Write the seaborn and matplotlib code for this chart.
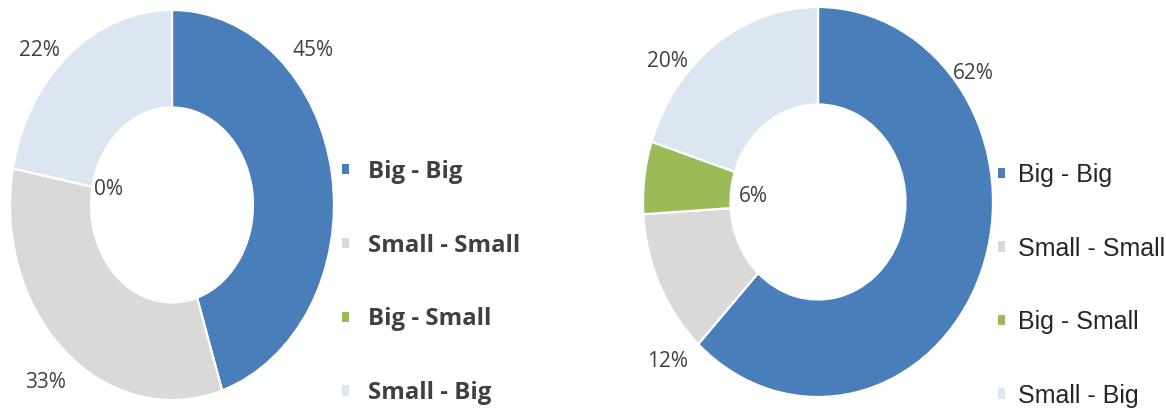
import matplotlib
matplotlib.use("Agg")
import matplotlib.pyplot as plt
from matplotlib.patches import Patch
import seaborn as sns

# Share of pairings (percent)
categories = ["Big - Big", "Small - Small", "Big - Small", "Small - Big"]
left_values = [45, 33, 0, 22]
right_values = [62, 12, 6, 20]
colors = ["#4A7EBB", "#D9D9D9", "#9BBB59", "#DCE6F2"]

sns.set_theme(style="white")
plt.rcParams["font.family"] = ["Open Sans", "DejaVu Sans"]

W, H = 1166, 409
fig = plt.figure(figsize=(W / 100, H / 100), dpi=100)
palette = sns.color_palette(colors)


def px_rect(x0, y0, x1, y1):
    """Pixel box (top-left origin) -> figure fraction rect."""
    return [x0 / W, (H - y1) / H, (x1 - x0) / W, (y1 - y0) / H]


def donut(rect, values, label_pos):
    ax = fig.add_axes(rect)
    ax.pie(
        values,
        colors=palette,
        startangle=90,
        counterclock=False,
        radius=1.0,
        wedgeprops=dict(width=0.5, edgecolor="white", linewidth=1.6),
    )
    ax.set_aspect("auto")
    ax.set_xlim(-1, 1)
    ax.set_ylim(-1, 1)
    ax.axis("off")
    for v, (x, y) in zip(values, label_pos):
        ax.text(x, y, f"{v}%", ha="center", va="center", fontsize=15,
                color="#404040", family=["Open Sans", "DejaVu Sans"])
    return ax


def swatches():
    return [Patch(facecolor=c, edgecolor="none", linewidth=0) for c in palette]


# Left donut
ax_l = donut(px_rect(10, 10, 334, 400), left_values,
             [(0.87, 0.79), (-0.78, -0.91), (-0.39, 0.08), (-0.82, 0.79)])
fig.legend(swatches(), categories, loc="upper left",
           bbox_to_anchor=(342 / W, (H - 160) / H), bbox_transform=fig.transFigure,
           frameon=False, borderpad=0, borderaxespad=0,
           handlelength=0.28, handleheight=0.28, handletextpad=0.8,
           labelspacing=2.07,
           prop=dict(family=["Open Sans", "DejaVu Sans"], weight="bold", size=17.3),
           labelcolor="#404040")

# Right donut
ax_r = donut(px_rect(643, 7, 993, 397), right_values,
             [(0.89, 0.66), (-0.86, -0.82), (-0.37, 0.03), (-0.86, 0.72)])
fig.legend(swatches(), categories, loc="upper left",
           bbox_to_anchor=(998 / W, (H - 163) / H), bbox_transform=fig.transFigure,
           frameon=False, borderpad=0, borderaxespad=0,
           handlelength=0.26, handleheight=0.26, handletextpad=0.55,
           labelspacing=1.98,
           prop=dict(family=["Liberation Sans", "DejaVu Sans"], size=18),
           labelcolor="#262626")

fig.savefig("out.png", dpi=100, facecolor="white")
